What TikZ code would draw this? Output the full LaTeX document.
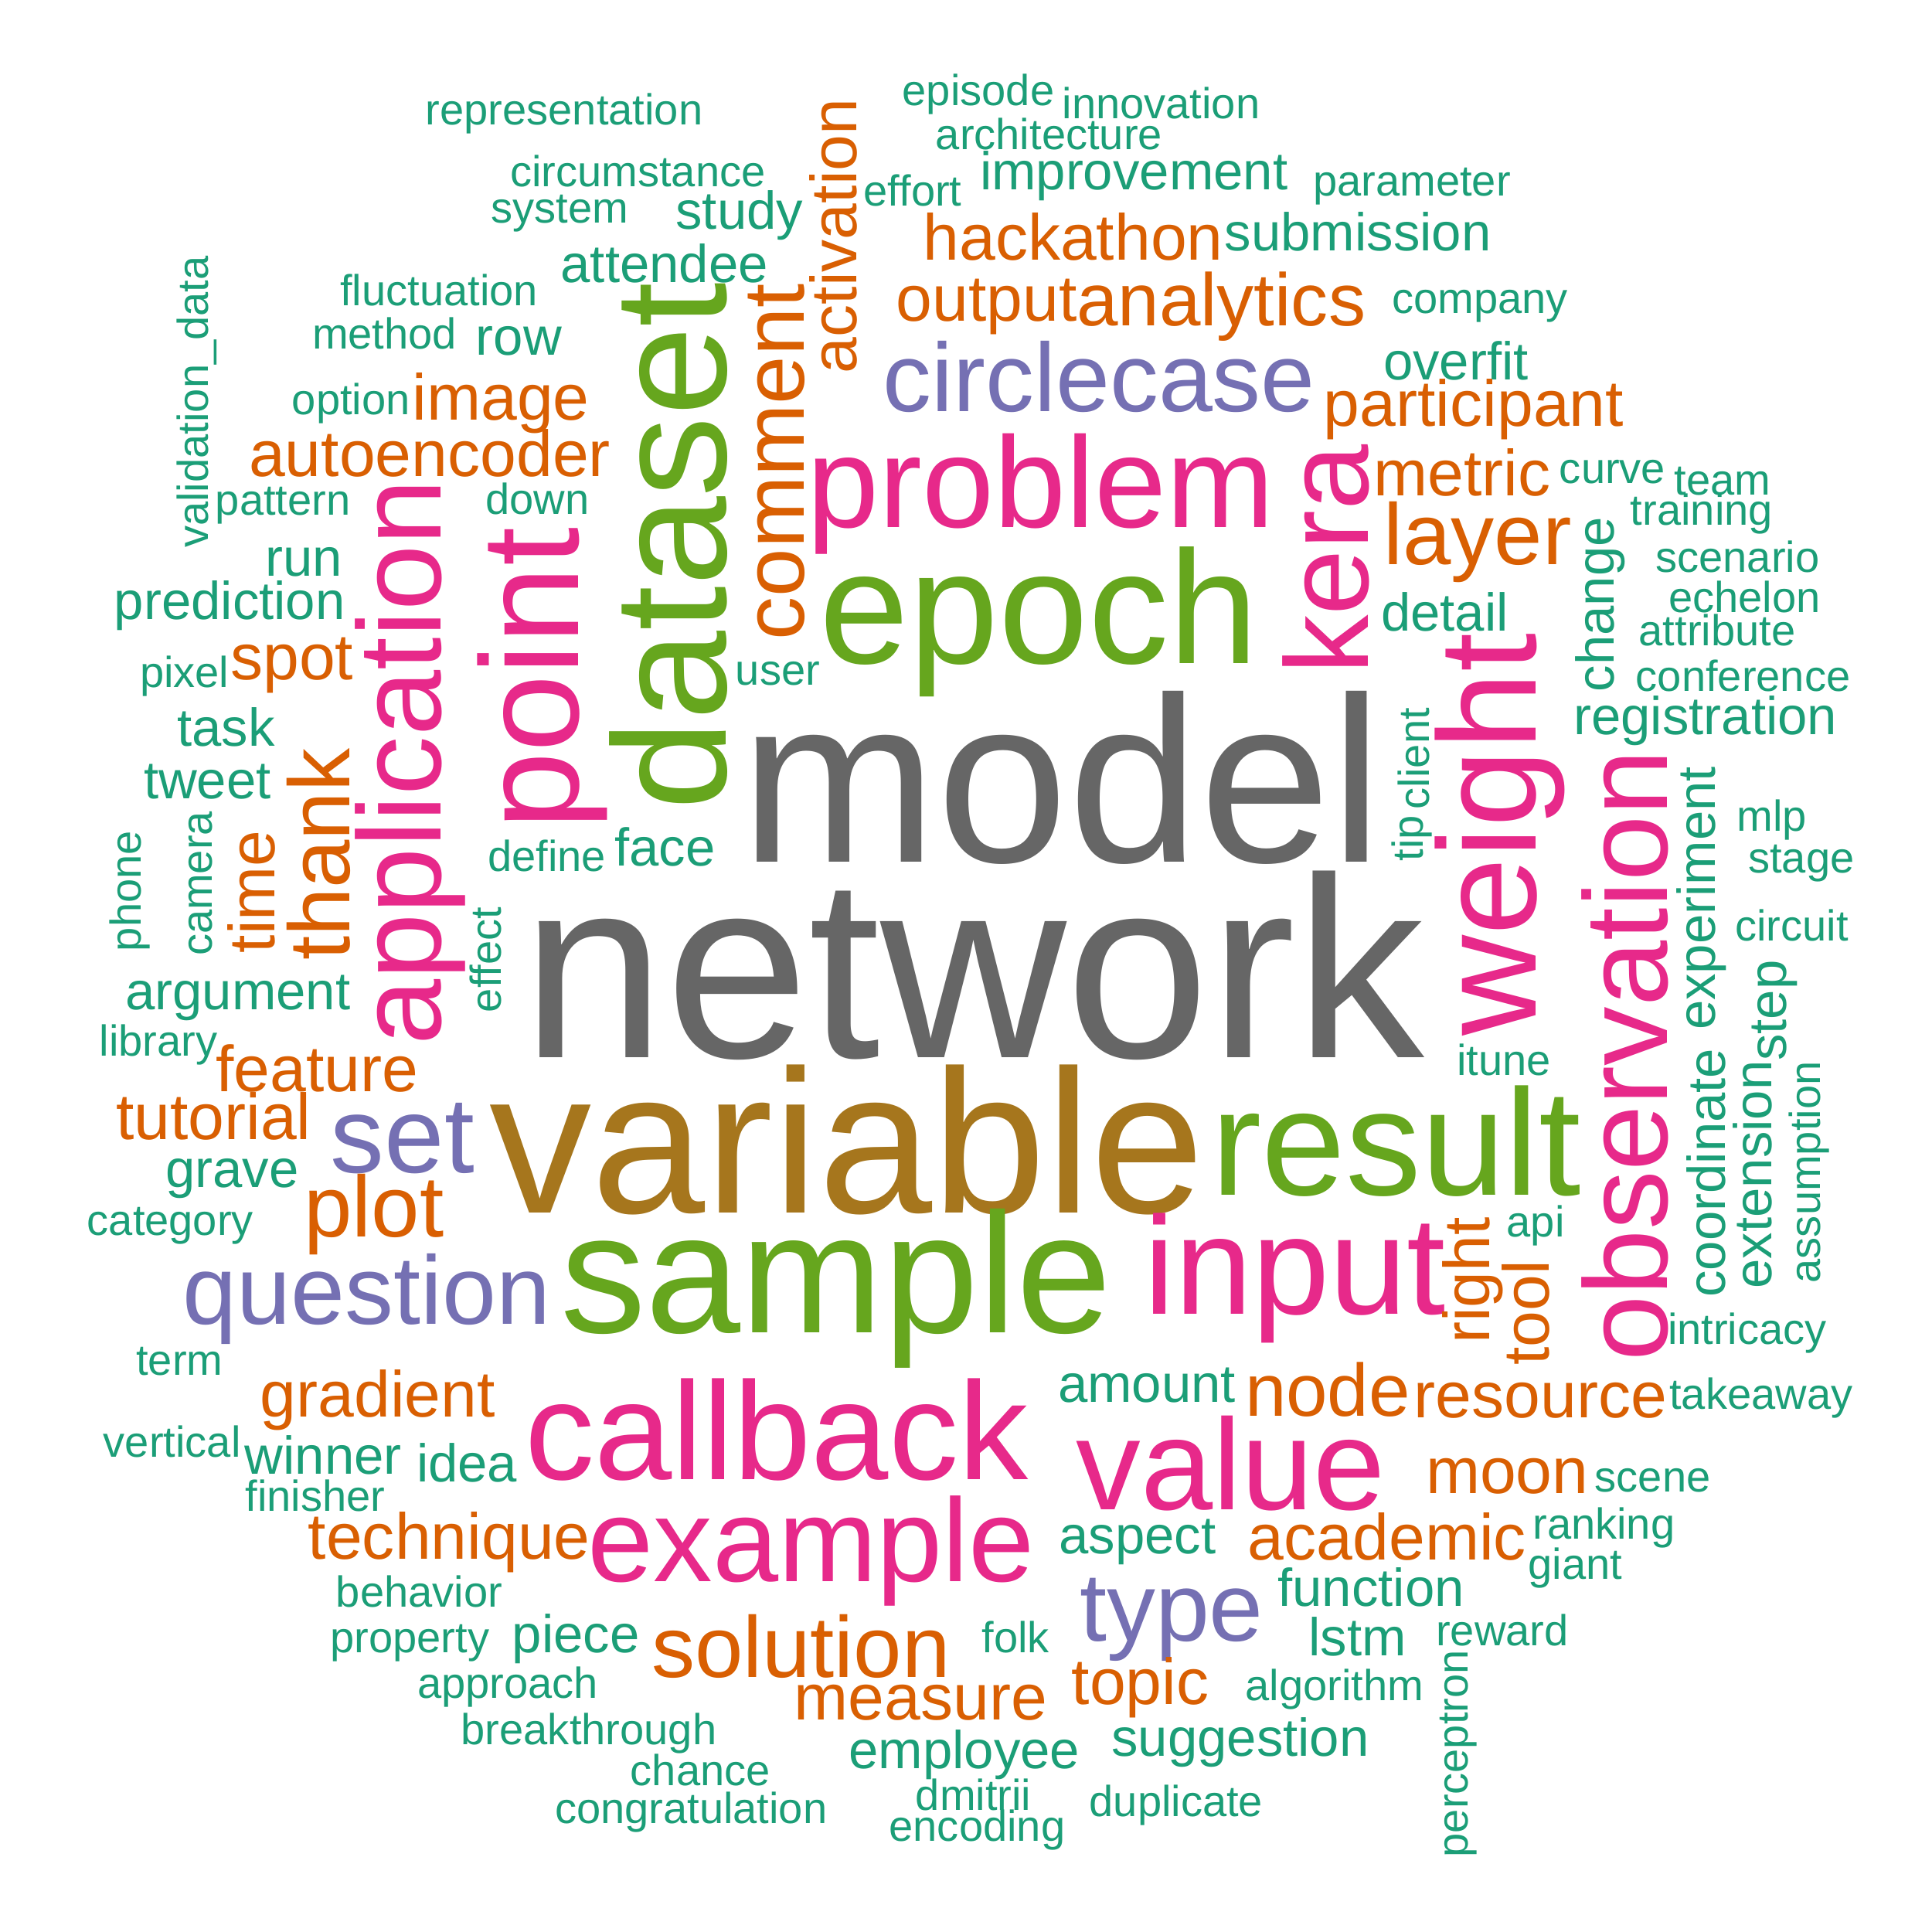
\documentclass[tikz,border=0pt]{standalone}
\usepackage{fontspec}
\setmainfont{Liberation Sans}
\definecolor{cT}{HTML}{1B9E77}
\definecolor{cO}{HTML}{D95F02}
\definecolor{cP}{HTML}{7570B3}
\definecolor{cK}{HTML}{E7298A}
\definecolor{cG}{HTML}{66A61E}
\definecolor{cB}{HTML}{A6761D}
\definecolor{cY}{HTML}{666666}
\tikzset{
  wc/.style={inner sep=0pt, outer sep=0pt, anchor=base},
  sz/.style={font=\fontsize{#1}{#1}\selectfont},
  vert/.style={rotate=90},
  tT/.style={wc,text=cT},
  tO/.style={wc,text=cO},
  tP/.style={wc,text=cP},
  tK/.style={wc,text=cK},
  tG/.style={wc,text=cG},
  tB/.style={wc,text=cB},
  tY/.style={wc,text=cY},
  sm/.style={sz=35},
  md/.style={sz=43},
  og/.style={sz=52.5}
}
\begin{document}
\begin{tikzpicture}[x=1pt,y=-1pt]
\path[use as bounding box, fill=white] (0,0) rectangle (1560,1560);
% top
\node[tT,sm] (representation) at (455.5,101) {representation};
\node[tT,sm] (circumstance) at (515,151) {circumstance};
\node[tT,sm] (system) at (452,180) {system};
\node[tT,sm] (fluctuation) at (354.5,247) {fluctuation};
\node[tT,sm] (method) at (310.5,282) {method};
\node[tT,md] (row) at (419,287) {row};
\node[tT,sm] (option) at (283.5,335) {option};
\node[tO,og] (image) at (404.5,339) {image};
\node[tO,og] (autoencoder) at (347,385) {autoencoder};
\node[tT,sm,vert] (validationdata) at (168,324.5) {validation\_data};
\node[tT,sm] (pattern) at (228.5,416) {pattern};
\node[tT,sm] (down) at (434,415) {down};
\node[tT,md] (run) at (245.5,465) {run};
\node[tT,md] (prediction) at (185.5,500) {prediction};
\node[tT,sm] (episode) at (790,85) {episode};
\node[tT,sm] (innovation) at (937.5,96) {innovation};
\node[tT,sm] (architecture) at (847,121) {architecture};
\node[tT,md] (improvement) at (915.5,153) {improvement};
\node[tT,sm] (effort) at (737,166) {effort};
\node[tT,md] (study) at (597,185) {study};
\node[tT,md] (attendee) at (536.5,228) {attendee};
\node[tO,og,vert] (activation) at (692,190.5) {activation};
\node[tO,og] (hackathon) at (866.5,210) {hackathon};
\node[tT,md] (submission) at (1096.5,202.5) {submission};
\node[tO,og] (output) at (796.5,259) {output};
\node[tO,sz=60] (analytics) at (986,263) {analytics};
\node[tP,sz=78.5] (circlecase) at (887.5,332) {circlecase};
\node[tK,sz=104.5] (problem) at (840.4,426) {problem};
\node[tO,sz=70,vert] (comment) at (649.3,373) {comment};
\node[tG,sz=130,vert] (dataset) at (586,441) {dataset};
\node[tG,sz=130] (epoch) at (839,536) {epoch};
\node[tT,sm] (parameter) at (1140,158) {parameter};
\node[tT,sm] (company) at (1195,253) {company};
\node[tT,md] (overfit) at (1175.5,307) {overfit};
\node[tO,og] (participant) at (1190,344) {participant};
\node[tO,og] (metric) at (1180.5,400.5) {metric};
\node[tT,sm] (curve) at (1302,390.5) {curve};
\node[tT,sm] (team) at (1391,399.5) {team};
\node[tT,sm] (training) at (1374,424) {training};
\node[tO,sz=70] (layer) at (1193,456) {layer};
\node[tK,sz=95.5,vert] (kera) at (1104.6,451.8) {kera};
\node[tT,md,vert] (change) at (1303.3,488) {change};
\node[tT,sm] (scenario) at (1403,462) {scenario};
\node[tT,sm] (echelon) at (1408.5,494.5) {echelon};
\node[tT,md] (detail) at (1166.5,509.5) {detail};
\node[tT,sm] (attribute) at (1386.5,521.5) {attribute};
% left middle
\node[tT,sm] (pixel) at (149,555) {pixel};
\node[tO,og] (spot) at (235.7,549) {spot};
\node[tT,md] (task) at (182.5,602.6) {task};
\node[tT,md] (tweet) at (167.5,645) {tweet};
\node[tT,sm,vert] (phone) at (113.7,719.5) {phone};
\node[tT,sm,vert] (camera) at (171,713.5) {camera};
\node[tO,og,vert] (time) at (222,720) {time};
\node[tO,sz=70,vert] (thank) at (282.5,690) {thank};
\node[tK,sz=95.5,vert] (application) at (356,615.5) {application};
\node[tK,sz=112.5,vert] (point) at (466.8,548) {point};
\node[tT,sm] (define) at (441.5,703.5) {define};
\node[tT,md] (face) at (537,699.3) {face};
\node[tT,sm,vert] (effect) at (404.5,775) {effect};
\node[tT,md] (argument) at (192,815.5) {argument};
\node[tT,sm] (library) at (128,852.6) {library};
\node[tO,og] (feature) at (256,881.7) {feature};
\node[tO,og] (tutorial) at (172.5,920) {tutorial};
\node[tP,sz=87] (set) at (325,947) {set};
\node[tT,md] (grave) at (187.5,958.6) {grave};
\node[tO,sz=70] (plot) at (302,999) {plot};
\node[tT,sm] (category) at (137.5,997.7) {category};
\node[tT,sm] (user) at (628,553) {user};
% centre
\node[tY,sz=190.5] (model) at (857.5,696) {model};
\node[tY,sz=208] (network) at (785.9,854) {network};
\node[tB,sz=165] (variable) at (684,979.5) {variable};
\node[tG,sz=122] (result) at (1127.4,965) {result};
\node[tG,sz=138] (sample) at (675,1076) {sample};
\node[tK,sz=112.5] (input) at (1045.6,1061) {input};
% right middle
\node[tT,sm] (conference) at (1407.5,558) {conference};
\node[tT,md] (registration) at (1377,593.3) {registration};
\node[tK,sz=112.5,vert] (weight) at (1240.4,674) {weight};
\node[tT,sm,vert] (client) at (1154,612.5) {client};
\node[tT,sm,vert] (tip) at (1149,677) {tip};
\node[tK,sz=95.5,vert] (observation) at (1346,852.5) {observation};
\node[tT,md,vert] (experiment) at (1385,725.4) {experiment};
\node[tT,sm] (mlp) at (1430.5,671.3) {mlp};
\node[tT,sm] (stage) at (1454.5,704.5) {stage};
\node[tT,sm] (circuit) at (1446.7,759.8) {circuit};
\node[tT,md,vert] (step) at (1442.4,816) {step};
\node[tT,sm] (itune) at (1214.5,868.5) {itune};
\node[tT,md,vert] (coordinate) at (1393,947) {coordinate};
\node[tT,md,vert] (extension) at (1430.3,948.4) {extension};
\node[tT,sm,vert] (assumption) at (1469.6,946.5) {assumption};
\node[tT,sm] (api) at (1240,998.7) {api};
\node[tO,og,vert] (right) at (1203,1034) {right};
\node[tO,og,vert] (tool) at (1251,1060) {tool};
\node[tT,sm] (intricacy) at (1410.8,1085.5) {intricacy};
\node[tT,sm] (takeaway) at (1422,1138) {takeaway};
% lower left
\node[tP,sz=78.5] (question) at (296,1069.4) {question};
\node[tT,sm] (term) at (145,1110.5) {term};
\node[tO,og] (gradient) at (305,1144) {gradient};
\node[tT,sm] (vertical) at (139,1176.7) {vertical};
\node[tT,md] (winner) at (261,1190) {winner};
\node[tT,md] (idea) at (377,1196.8) {idea};
\node[tT,sm] (finisher) at (254.6,1220) {finisher};
\node[tO,og] (technique) at (362.7,1259) {technique};
\node[tT,sm] (behavior) at (338.5,1297.8) {behavior};
\node[tT,sm] (property) at (331,1334.5) {property};
\node[tT,md] (piece) at (465,1334.5) {piece};
\node[tT,sm] (approach) at (410,1371.3) {approach};
\node[tT,sm] (breakthrough) at (475.5,1408.7) {breakthrough};
\node[tT,sm] (chance) at (565.5,1441.5) {chance};
\node[tT,sm] (congratulation) at (558,1472) {congratulation};
% lower centre
\node[tK,sz=112.5] (callback) at (627,1194.8) {callback};
\node[tK,sz=95.5] (example) at (655,1277) {example};
\node[tT,md] (amount) at (926,1132) {amount};
\node[tO,sz=60] (node) at (1072,1143.3) {node};
\node[tO,og] (resource) at (1244,1144.6) {resource};
\node[tK,sz=104.5] (value) at (994,1219) {value};
\node[tT,md] (aspect) at (918.5,1254.3) {aspect};
\node[tO,og] (academic) at (1120,1259.3) {academic};
\node[tP,sz=78.5] (type) at (946,1324.8) {type};
\node[tT,md] (function) at (1107,1297) {function};
\node[tO,sz=70] (solution) at (646.7,1354.6) {solution};
\node[tT,sm] (folk) at (820,1334.5) {folk};
\node[tO,og] (topic) at (920.7,1376.3) {topic};
\node[tT,sm] (algorithm) at (1077.5,1373) {algorithm};
\node[tO,og] (measure) at (743.4,1388.7) {measure};
\node[tT,md] (employee) at (778.7,1428) {employee};
\node[tT,md] (suggestion) at (1001.5,1418) {suggestion};
\node[tT,sm] (dmitrii) at (786,1461.6) {dmitrii};
\node[tT,sm] (encoding) at (789,1486.6) {encoding};
\node[tT,sm] (duplicate) at (949.7,1466.6) {duplicate};
% lower right
\node[tO,og] (moon) at (1217,1205.8) {moon};
\node[tT,sm] (scene) at (1334.5,1204.8) {scene};
\node[tT,sm] (ranking) at (1295,1242.6) {ranking};
\node[tT,sm] (giant) at (1272,1275) {giant};
\node[tT,md] (lstm) at (1096,1337.2) {lstm};
\node[tT,sm] (reward) at (1213,1328.8) {reward};
\node[tT,sm,vert] (perceptron) at (1185,1416) {perceptron};
\end{tikzpicture}
\end{document}
